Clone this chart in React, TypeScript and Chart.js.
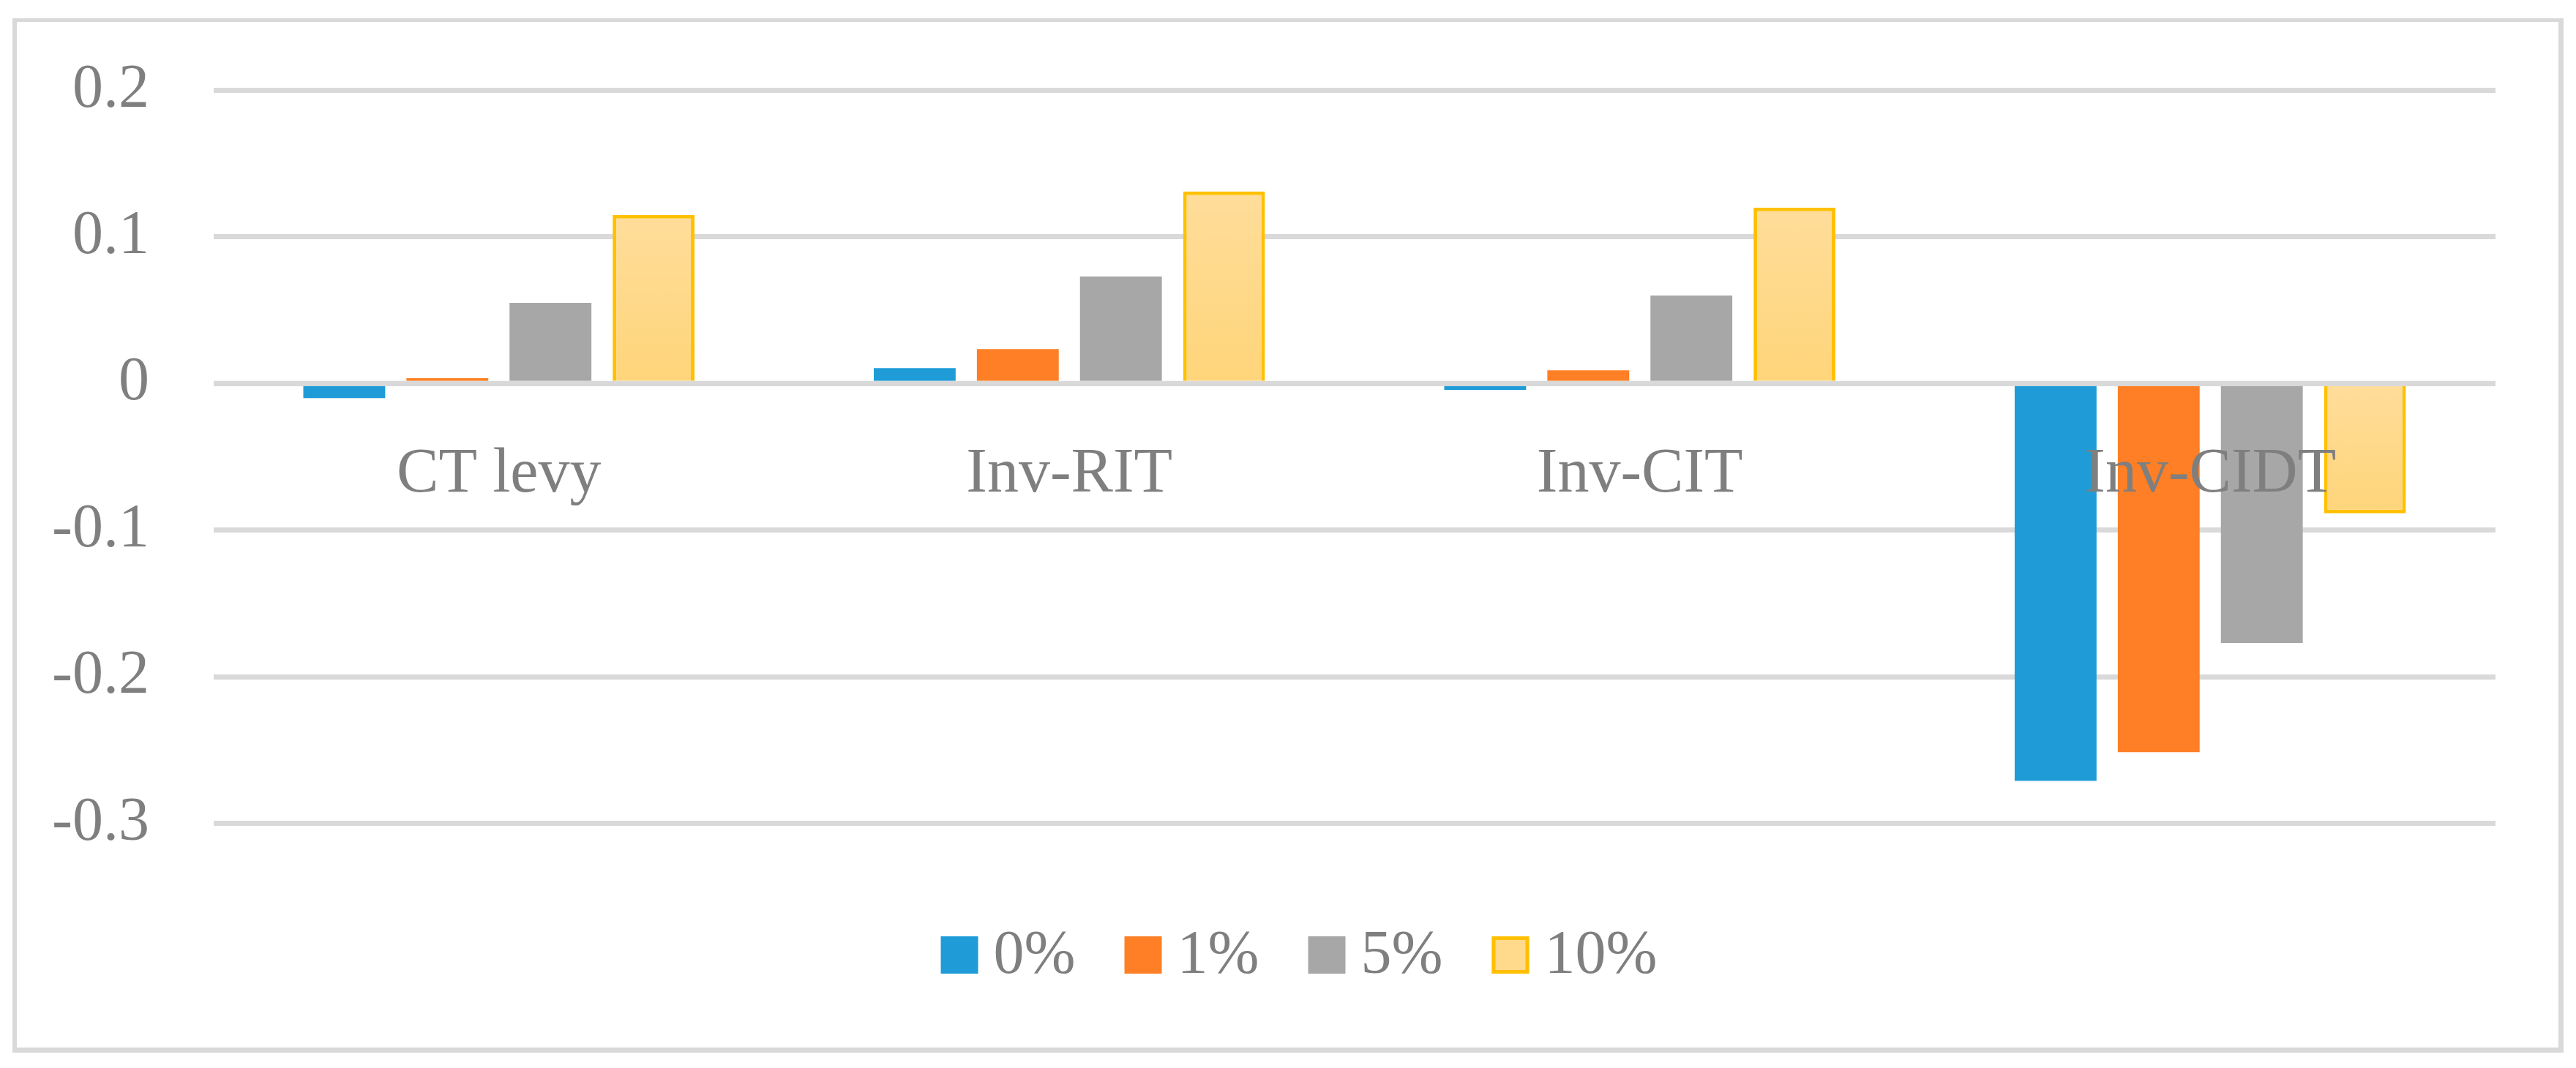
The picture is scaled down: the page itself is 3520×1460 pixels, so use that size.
import React, { useEffect, useRef } from "react";
import { Chart, registerables } from "chart.js";

Chart.register(...registerables);

const CATEGORIES = ["CT levy", "Inv-RIT", "Inv-CIT", "Inv-CIDT"];
const SERIES_LABELS = ["0%", "1%", "5%", "10%"];
const VALUES_0 = [-0.01, 0.0105, -0.0043, -0.271];
const VALUES_1 = [0.0036, 0.0235, 0.009, -0.2515];
const VALUES_5 = [0.055, 0.073, 0.06, -0.177];
const VALUES_10 = [0.115, 0.131, 0.12, -0.0886];
const Y_TICKS = [-0.3, -0.2, -0.1, 0, 0.1, 0.2];
const Y_TICK_LABELS = ["-0.3", "-0.2", "-0.1", "0", "0.1", "0.2"];

const FONT = "'Liberation Serif', 'Times New Roman', serif";
const TEXT_COLOR = "#7f7f7f";
const GRID_COLOR = "#d9d9d9";

export default function App() {
  const canvasRef = useRef<HTMLCanvasElement | null>(null);

  useEffect(() => {
    document.body.style.margin = "0";
    const canvas = canvasRef.current;
    if (!canvas) return;

    const yellowFill = (context: any) => {
      const chart = context.chart;
      const yScale = chart.scales && chart.scales.y;
      const v = context.raw;
      if (!yScale || typeof v !== "number") return "#FFD98A";
      const top = yScale.getPixelForValue(Math.max(v, 0));
      const bottom = yScale.getPixelForValue(Math.min(v, 0));
      if (!isFinite(top) || !isFinite(bottom) || top === bottom) return "#FFD98A";
      const g = chart.ctx.createLinearGradient(0, top, 0, bottom);
      g.addColorStop(0, "#FFDD9A");
      g.addColorStop(1, "#FFD57A");
      return g;
    };

    const framePlugin = {
      id: "frame",
      beforeDraw(chart: any) {
        const c = chart.ctx;
        c.save();
        c.fillStyle = "#ffffff";
        c.fillRect(0, 0, chart.width, chart.height);
        c.fillStyle = GRID_COLOR;
        c.fillRect(17, 25, 6, 1414); // left
        c.fillRect(17, 25, 3486, 5); // top
        c.fillRect(3496, 25, 7, 1414); // right
        c.fillRect(17, 1432, 3486, 7); // bottom
        c.restore();
      },
    };

    const overlayPlugin = {
      id: "overlay",
      afterDatasetsDraw(chart: any) {
        const c = chart.ctx;
        const x = chart.scales.x;
        const y = chart.scales.y;
        const area = chart.chartArea;
        const base = y.getPixelForValue(0);
        c.save();
        // horizontal axis line drawn over the bars
        c.strokeStyle = GRID_COLOR;
        c.lineWidth = 7;
        c.beginPath();
        c.moveTo(area.left, base);
        c.lineTo(area.right, base);
        c.stroke();
        // category labels next to the axis
        c.font = `86px ${FONT}`;
        c.fillStyle = TEXT_COLOR;
        c.textAlign = "center";
        c.textBaseline = "alphabetic";
        chart.data.labels.forEach((lab: string, i: number) => {
          c.fillText(lab, x.getPixelForValue(i), base + 147.5);
        });
        c.restore();
      },
    };

    const legendPlugin = {
      id: "customLegend",
      afterDraw(chart: any) {
        const c = chart.ctx;
        const box = 51;
        const gapText = 21;
        const gapItem = 67;
        const baseline = 1330;
        const boxTop = 1280;
        c.save();
        c.font = `84px ${FONT}`;
        c.textBaseline = "alphabetic";
        c.textAlign = "left";
        const ds = chart.data.datasets;
        const widths = ds.map((d: any) => c.measureText(d.label).width);
        let total = 0;
        ds.forEach((_: any, i: number) => {
          total += box + gapText + widths[i];
          if (i < ds.length - 1) total += gapItem;
        });
        let x = 1775 - total / 2;
        ds.forEach((d: any, i: number) => {
          c.fillStyle = d.legendFill;
          c.fillRect(x, boxTop, box, box);
          if (d.legendBorder) {
            c.strokeStyle = d.legendBorder;
            c.lineWidth = 5;
            c.strokeRect(x + 2.5, boxTop + 2.5, box - 5, box - 5);
          }
          x += box + gapText;
          c.fillStyle = TEXT_COLOR;
          c.fillText(d.label, x, baseline);
          x += widths[i] + gapItem;
        });
        c.restore();
      },
    };

    const chart = new Chart(canvas, {
      type: "bar",
      data: {
        labels: CATEGORIES,
        datasets: [
          {
            label: SERIES_LABELS[0],
            data: VALUES_0,
            backgroundColor: "#1F9CD8",
            borderWidth: 0,
            legendFill: "#1F9CD8",
          } as any,
          {
            label: SERIES_LABELS[1],
            data: VALUES_1,
            backgroundColor: "#FE7F25",
            borderWidth: 0,
            legendFill: "#FE7F25",
          } as any,
          {
            label: SERIES_LABELS[2],
            data: VALUES_5,
            backgroundColor: "#A7A7A7",
            borderWidth: 0,
            legendFill: "#A7A7A7",
          } as any,
          {
            label: SERIES_LABELS[3],
            data: VALUES_10,
            backgroundColor: yellowFill,
            borderColor: "#FFC000",
            borderWidth: 5,
            borderSkipped: "start",
            legendFill: "#FFDA8C",
            legendBorder: "#FFC000",
          } as any,
        ],
      },
      options: {
        animation: false,
        responsive: false,
        maintainAspectRatio: false,
        devicePixelRatio: 1,
        layout: {
          padding: { top: 123.5, bottom: 334.5, left: 20, right: 110 },
        },
        plugins: {
          legend: { display: false },
          tooltip: { enabled: false },
        },
        datasets: {
          bar: {
            categoryPercentage: 0.723,
            barPercentage: 0.794,
          },
        },
        scales: {
          x: {
            display: false,
            offset: true,
          },
          y: {
            min: -0.3,
            max: 0.2,
            afterFit: (scale: any) => {
              scale.width = 272;
            },
            afterBuildTicks: (scale: any) => {
              scale.ticks = Y_TICKS.map((v) => ({ value: v }));
            },
            ticks: {
              padding: 0,
              color: TEXT_COLOR,
              font: { family: FONT, size: 84 },
              callback: (_v: any, i: number) => Y_TICK_LABELS[i],
            },
            grid: {
              color: GRID_COLOR,
              lineWidth: 7,
              drawTicks: true,
              tickLength: 88,
              tickColor: "rgba(0,0,0,0)",
            },
            border: { display: false },
          },
        },
      },
      plugins: [framePlugin, overlayPlugin, legendPlugin],
    } as any);

    return () => chart.destroy();
  }, []);

  return (
    <div style={{ width: 3520, height: 1460, position: "relative" }}>
      <canvas
        ref={canvasRef}
        width={3520}
        height={1460}
        style={{ width: 3520, height: 1460, display: "block" }}
      />
    </div>
  );
}
